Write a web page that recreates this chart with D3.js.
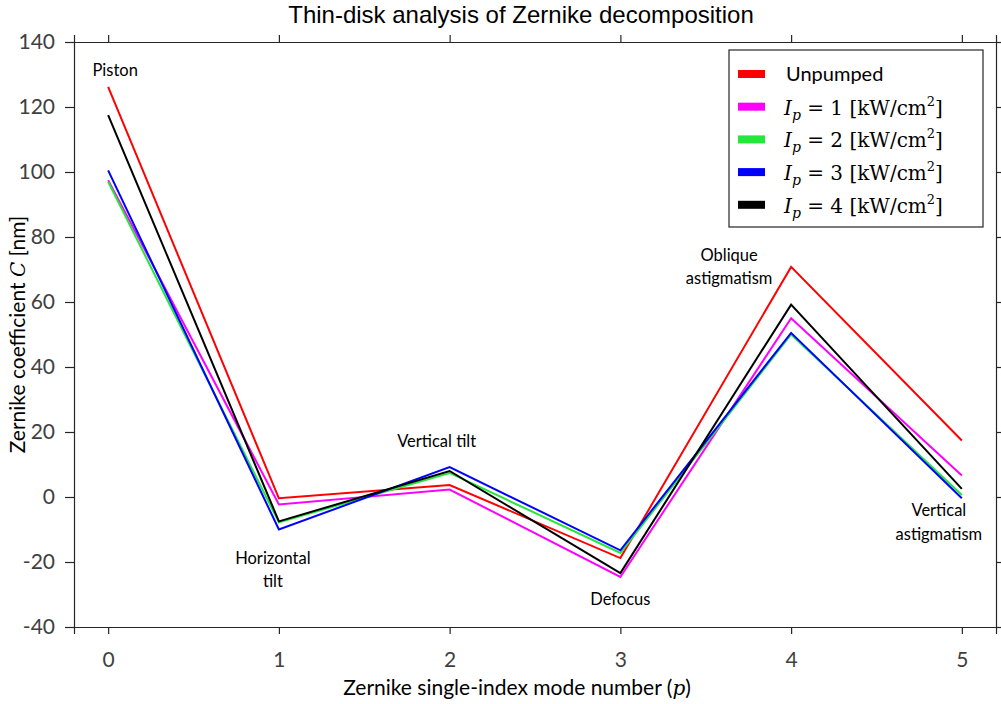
<!DOCTYPE html>
<html>
<head>
<meta charset="utf-8">
<script src="https://cdn.jsdelivr.net/npm/d3@7"></script>
<style>
  body { margin: 0; background: #fff; }
  svg { display: block; }
</style>
</head>
<body>
<svg id="chart" width="1001" height="704"></svg>
<script>
// Zernike mode indices and the fitted coefficients (nm) for each pump level
const modes = [0, 1, 2, 3, 4, 5];
const unpumped = [126.2, -0.4, 3.7, -18.8, 70.8, 17.4];
const ip1 = [97.5, -2.3, 2.3, -24.6, 55.0, 6.6];
const ip2 = [97.0, -7.8, 7.4, -17.2, 50.0, 0.6];
const ip3 = [100.5, -10.0, 9.2, -16.4, 50.5, -0.4];
const ip4 = [117.5, -7.5, 8.0, -23.4, 59.2, 2.5];
const seriesNames = ["Unpumped", "1", "2", "3", "4"];
const seriesColors = ["#ff0000", "#ff00ff", "#22e83a", "#0000ff", "#000000"];
const yTicks = [-40, -20, 0, 20, 40, 60, 80, 100, 120, 140];
const xTicks = [0, 1, 2, 3, 4, 5];
const modeLabels = [
  { p: 0, v: 126.2, lines: ["Piston"], dx: 7, dy: -11 },
  { p: 1, v: -10, lines: ["Horizontal", "tilt"], dx: -6, dy: 34 },
  { p: 2, v: 9.2, lines: ["Vertical tilt"], dx: -13, dy: -20 },
  { p: 3, v: -24.6, lines: ["Defocus"], dx: 0, dy: 28 },
  { p: 4, v: 70.8, lines: ["Oblique", "astigmatism"], dx: -62, dy: -6 },
  { p: 5, v: -0.4, lines: ["Vertical", "astigmatism"], dx: -23, dy: 18 }
];

const series = [unpumped, ip1, ip2, ip3, ip4];

const svg = d3.select("#chart");
const margin = { left: 74, right: 5, top: 42, bottom: 77 };
const W = 1001, H = 704;

const x = d3.scaleLinear().domain([-0.2, 5.2]).range([margin.left, W - margin.right]);
const y = d3.scaleLinear().domain([-40, 140]).range([H - margin.bottom, margin.top]);

const tickFont = "Lato, 'Open Sans', sans-serif";

// Title
svg.append("text")
  .attr("x", 521).attr("y", 23)
  .attr("text-anchor", "middle")
  .attr("font-family", "'Liberation Sans', Arial, sans-serif")
  .attr("font-size", 24)
  .attr("fill", "#000")
  .text("Thin-disk analysis of Zernike decomposition");

// Axes (boxed, ticks pointing outward on all four sides)
function styleAxis(g) {
  g.selectAll("path.domain").attr("stroke", "#262626").attr("stroke-width", 1.2);
  g.selectAll(".tick line").attr("stroke", "#262626").attr("stroke-width", 1.2);
  g.selectAll(".tick text")
    .attr("font-family", tickFont)
    .attr("font-size", 21)
    .attr("fill", "#404040");
}

const gx = svg.append("g")
  .attr("transform", `translate(0,${y(-40)})`)
  .call(d3.axisBottom(x).tickValues(xTicks).tickSizeOuter(0).tickSize(7).tickPadding(18).tickFormat(d3.format("d")));
styleAxis(gx);

const gxTop = svg.append("g")
  .attr("transform", `translate(0,${y(140)})`)
  .call(d3.axisTop(x).tickValues(xTicks).tickSizeOuter(0).tickSize(7).tickFormat(""));
styleAxis(gxTop);

const gy = svg.append("g")
  .attr("transform", `translate(${x(-0.2)},0)`)
  .call(d3.axisLeft(y).tickValues(yTicks).tickSizeOuter(0).tickSize(9).tickPadding(10).tickFormat(d3.format("d")));
styleAxis(gy);
gy.selectAll(".tick text").text(d => d < 0 ? "-" + Math.abs(d) : d);

const gyRight = svg.append("g")
  .attr("transform", `translate(${x(5.2)},0)`)
  .call(d3.axisRight(y).tickValues(yTicks).tickSizeOuter(0).tickSize(7).tickFormat(""));
styleAxis(gyRight);

// Axis titles
const xt = svg.append("text")
  .attr("x", 517).attr("y", 695)
  .attr("text-anchor", "middle")
  .attr("font-family", tickFont)
  .attr("font-size", 21)
  .attr("fill", "#000");
xt.append("tspan").text("Zernike single-index mode number (");
xt.append("tspan").attr("font-family", "'DejaVu Serif', serif").attr("font-style", "italic").attr("font-size", 20).text("p");
xt.append("tspan").text(")");

const yt = svg.append("text")
  .attr("transform", `translate(25,${(y(140) + y(-40)) / 2}) rotate(-90)`)
  .attr("text-anchor", "middle")
  .attr("font-family", tickFont)
  .attr("font-size", 21)
  .attr("fill", "#000");
yt.append("tspan").text("Zernike coefficient ");
yt.append("tspan").attr("font-family", "'DejaVu Serif', serif").attr("font-style", "italic").attr("font-size", 20).text("C");
yt.append("tspan").text(" [nm]");

// Series lines
const line = d3.line().x((d, i) => x(modes[i])).y(d => y(d));
svg.append("g").selectAll("path")
  .data(series)
  .join("path")
  .attr("d", d => line(d))
  .attr("fill", "none")
  .attr("stroke", (d, i) => seriesColors[i])
  .attr("stroke-width", 2)
  .attr("stroke-linejoin", "miter");

// Mode annotations
const ann = svg.append("g")
  .attr("font-family", tickFont)
  .attr("font-size", 16.5)
  .attr("fill", "#000")
  .attr("text-anchor", "middle");
modeLabels.forEach(m => {
  const t = ann.append("text")
    .attr("x", x(m.p) + m.dx)
    .attr("y", y(m.v) + m.dy);
  m.lines.forEach((s, k) => {
    t.append("tspan").attr("x", x(m.p) + m.dx).attr("dy", k === 0 ? 0 : 23.5).text(s);
  });
});

// Legend
const lg = svg.append("g").attr("transform", "translate(729,50)");
lg.append("rect")
  .attr("width", 254).attr("height", 177)
  .attr("fill", "#fff")
  .attr("stroke", "#262626").attr("stroke-width", 1.2);
seriesNames.forEach((name, i) => {
  const cy = 24 + i * 32.7;
  lg.append("rect")
    .attr("x", 9).attr("y", cy - 4)
    .attr("width", 27).attr("height", 8)
    .attr("fill", seriesColors[i]);
  if (i === 0) {
    lg.append("text")
      .attr("x", 57).attr("y", cy + 7)
      .attr("font-family", tickFont)
      .attr("font-size", 20)
      .attr("fill", "#000")
      .text(name);
  } else {
    const t = lg.append("text")
      .attr("x", 55).attr("y", cy + 8)
      .attr("font-family", "'DejaVu Serif', serif")
      .attr("font-size", 20)
      .attr("fill", "#000");
    t.append("tspan").attr("font-style", "italic").text("I");
    t.append("tspan").attr("font-style", "italic").attr("font-size", 14).attr("dy", 5).text("p");
    t.append("tspan").attr("dy", -5).text(" = " + name + " [kW/cm");
    t.append("tspan").attr("font-size", 13).attr("dy", -9).text("2");
    t.append("tspan").attr("dy", 9).text("]");
  }
});
</script>
</body>
</html>
